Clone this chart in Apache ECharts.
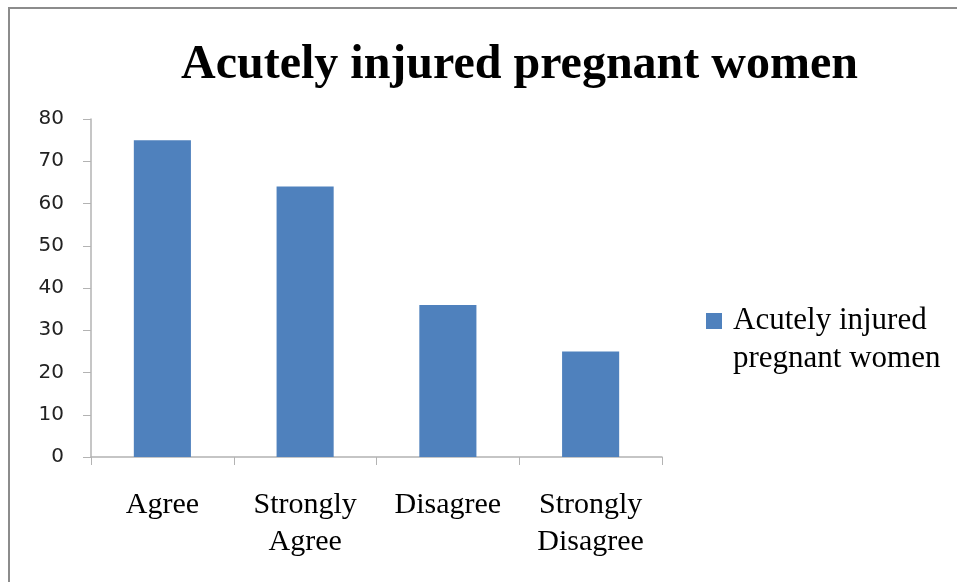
<!DOCTYPE html>
<html>
<head>
<meta charset="utf-8">
<style>
  html, body { margin: 0; padding: 0; background: #fff; }
  #chart { width: 957px; height: 582px; }
</style>
<script src="https://cdn.jsdelivr.net/npm/echarts@6/dist/echarts.min.js"></script>
</head>
<body>
<div id="chart"></div>
<script>
var categories = ["Agree", "Strongly\nAgree", "Disagree", "Strongly\nDisagree"];
var values = [75, 64, 36, 25];
var seriesName = "Acutely injured pregnant women";

var chart = echarts.init(document.getElementById("chart"));
var option = {
  animation: false,
  backgroundColor: "#fff",
  title: {
    text: "Acutely injured pregnant women",
    left: 176,
    top: 37,
    textStyle: {
      fontFamily: "Liberation Serif",
      fontWeight: "bold",
      fontSize: 48,
      color: "#000"
    }
  },
  // outer frame
  graphic: [
    {
      type: "rect",
      shape: { x: 9, y: 8, width: 980, height: 600 },
      style: { fill: "none", stroke: "#8c8c8c", lineWidth: 2 },
      silent: true
    }
  ],
  legend: {
    left: 701,
    top: 259,
    orient: "vertical",
    itemWidth: 16,
    itemHeight: 16,
    icon: "rect",
    formatter: function () {
      // leading blank line keeps the icon beside the first line
      return " \nAcutely injured\npregnant women";
    },
    textStyle: {
      fontFamily: "Liberation Serif",
      fontSize: 31,
      lineHeight: 38,
      color: "#000",
      padding: [0, 0, 0, 6]
    }
  },
  grid: {
    left: 91,
    right: 295,
    top: 119,
    bottom: 125
  },
  xAxis: {
    type: "category",
    data: categories,
    axisLine: { lineStyle: { color: "#b3b3b3", width: 1.5 } },
    axisTick: { show: true, length: 8, lineStyle: { color: "#b3b3b3" } },
    axisLabel: {
      margin: 30,
      fontFamily: "Liberation Serif",
      fontSize: 30,
      lineHeight: 37,
      color: "#000",
      interval: 0
    }
  },
  yAxis: {
    type: "value",
    min: 0,
    max: 80,
    interval: 10,
    axisLine: { show: true, lineStyle: { color: "#b3b3b3", width: 1.5 } },
    axisTick: { show: true, length: 8, lineStyle: { color: "#b3b3b3" } },
    splitLine: { show: false },
    axisLabel: {
      margin: 27,
      fontFamily: "DejaVu Sans",
      fontSize: 20,
      color: "#222"
    }
  },
  series: [
    {
      name: seriesName,
      type: "bar",
      data: values,
      barWidth: "40%",
      itemStyle: { color: "#4f81bd" }
    }
  ]
};
chart.setOption(option);
</script>
</body>
</html>
